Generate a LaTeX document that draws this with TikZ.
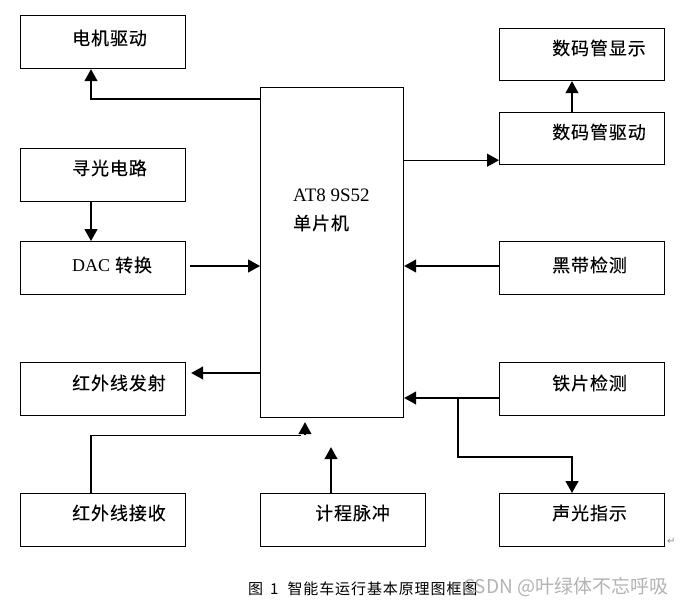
\documentclass[tikz,border=0pt]{standalone}
\usepackage{fontspec}
\setmainfont{Liberation Serif}
\newfontfamily\cjk[LetterSpace=5,FakeBold=0.2]{Noto Sans CJK SC}
\newfontfamily\capfont[LetterSpace=6]{Noto Sans CJK SC}
\newfontfamily\wmfont{Noto Sans CJK SC}
\newfontfamily\symfont{DejaVu Sans}
\usetikzlibrary{arrows.meta}
\begin{document}
\begin{tikzpicture}[x=1pt,y=-1pt,
  blk/.style={draw, line width=1.2pt, minimum width=165pt, minimum height=53pt, anchor=north west, inner sep=0pt},
  lbl/.style={anchor=west, inner sep=0pt, font=\cjk\fontsize{18}{20}\selectfont},
  arr/.style={line width=1.2pt, -{Triangle[length=12pt,width=13pt]}},
  ln/.style={line width=1.2pt}]
\useasboundingbox[fill=white] (0,0) rectangle (690,607);

% blocks
\node[blk] (motor) at (20,15) {};
\node[blk] (light) at (20,148) {};
\node[blk] (dac) at (20,241) {};
\node[blk] (irtx) at (20,362) {};
\node[blk] (irrx) at (20,493) {};
\node[blk] (odo) at (260,493) {};
\node[blk, minimum height=52pt] (segdisp) at (499,28) {};
\node[blk, minimum height=52pt] (segdrv) at (499,112) {};
\node[blk] (black) at (499,241) {};
\node[blk] (iron) at (499,362) {};
\node[blk] (sound) at (499,493) {};
\node[draw, line width=1.2pt, minimum width=143pt, minimum height=330pt, anchor=north west, inner sep=0pt] (mcu) at (260,87) {};

% labels
\node[lbl] (motor-t) at ([xshift=52pt,yshift=-23pt]motor.north west) {电机驱动};
\node[lbl] (light-t) at ([xshift=52pt,yshift=-20pt]light.north west) {寻光电路};
\node[lbl] (dac-t) at ([xshift=52pt,yshift=-24pt]dac.north west) {{\rmfamily\fontsize{18}{20}\selectfont DAC} 转换};
\node[lbl] (irtx-t) at ([xshift=52pt,yshift=-21pt]irtx.north west) {红外线发射};
\node[lbl] (irrx-t) at ([xshift=52pt,yshift=-20pt]irrx.north west) {红外线接收};
\node[lbl] (odo-t) at ([xshift=55pt,yshift=-20pt]odo.north west) {计程脉冲};
\node[lbl] (segdisp-t) at ([xshift=53pt,yshift=-20pt]segdisp.north west) {数码管显示};
\node[lbl] (segdrv-t) at ([xshift=53pt,yshift=-20pt]segdrv.north west) {数码管驱动};
\node[lbl] (black-t) at ([xshift=53pt,yshift=-24pt]black.north west) {黑带检测};
\node[lbl] (iron-t) at ([xshift=53pt,yshift=-21pt]iron.north west) {铁片检测};
\node[lbl] (sound-t) at ([xshift=53pt,yshift=-20pt]sound.north west) {声光指示};
\node[anchor=west, inner sep=0pt, font=\rmfamily\fontsize{19}{20}\selectfont] (mcu-t1) at (293,195) {AT8 9S52};
\node[lbl] (mcu-t2) at (293,223) {单片机};

% connector end points
\coordinate (dacout) at ([xshift=4pt,yshift=-25pt]dac.north east);
\coordinate (blackout) at ([yshift=-25pt]black.north west);
\coordinate (segin) at ([yshift=5pt]segdrv.south west);
\coordinate (irtxin) at ([xshift=5pt,yshift=-11pt]irtx.north east);
\coordinate (ironout) at ([yshift=-36pt]iron.north west);
\coordinate (rxend) at ([xshift=45pt,yshift=-4pt]mcu.south west);
\coordinate (rxbase) at ([yshift=-13pt]rxend);
\coordinate (rxturn) at ([xshift=-4pt,yshift=-13pt]rxend);
\coordinate (odoend) at ([xshift=71pt,yshift=-29pt]mcu.south west);
\coordinate (br) at ([xshift=-41pt,yshift=-36pt]iron.north west);

% connectors
\draw[arr] ([yshift=-12pt]mcu.north west) -| ([xshift=71pt]motor.south west);
\draw[arr] ([xshift=71pt]light.south west) -- ([xshift=71pt]dac.north west);
\draw[arr] (dacout) -- (mcu.west |- dacout);
\draw[arr] (blackout) -- (mcu.east |- blackout);
\draw[arr] (mcu.east |- segin) -- (segin);
\draw[arr] ([xshift=73pt]segdrv.north west) -- ([xshift=73pt]segdisp.south west);
\draw[arr] (mcu.west |- irtxin) -- (irtxin);
\draw[ln] ([xshift=71pt]irrx.north west) |- (rxturn);
\draw[arr] (rxbase) -- (rxend);
\draw[arr] ([xshift=71pt]odo.north west) -- (odoend);
\draw[arr] (ironout) -- (mcu.east |- ironout);
\draw[arr] (br) -- ++(0,59) -| ([xshift=73pt]sound.north west);

% caption and marks
\node[anchor=west, inner sep=0pt, font=\capfont\fontsize{15}{17}\selectfont] (cap) at (248,589) {图\hspace{7pt}1\hspace{9pt}智能车运行基本原理图框图};
\node[anchor=west, inner sep=0pt, font=\symfont\fontsize{10}{12}\selectfont, text=black!45] (pm1) at (667,541) {↵};
\node[anchor=west, inner sep=0pt, font=\wmfont\fontsize{19}{22}\selectfont, text=black!33, opacity=0.9] (wm) at (463,587) {CSDN @叶绿体不忘呼吸};
\end{tikzpicture}
\end{document}
